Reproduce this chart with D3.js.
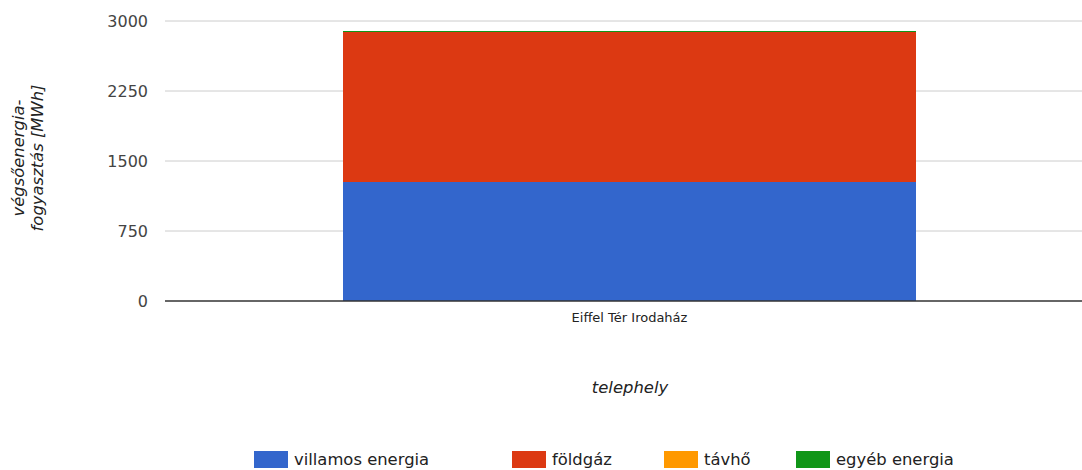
<!DOCTYPE html>
<html>
<head>
<meta charset="utf-8">
<script src="https://cdn.jsdelivr.net/npm/d3@7"></script>
<style>
  body { margin: 0; background: #fff; }
  svg text { font-family: "DejaVu Sans", sans-serif; }
</style>
</head>
<body>
<div id="chart"></div>
<script>
// data
var categories = ["Eiffel Tér Irodaház"];
var seriesNames = ["villamos energia", "földgáz", "távhő", "egyéb energia"];
var seriesColors = ["#3366cc", "#dc3912", "#ff9900", "#109618"];
var villamos = [1275];
var foldgaz = [1605];
var tavho = [0];
var egyeb = [12];
var yTicks = [0, 750, 1500, 2250, 3000];

var width = 1082, height = 470;
var plot = { left: 165, right: 1082, top: 21, bottom: 301 };

var svg = d3.select("#chart").append("svg")
    .attr("width", width)
    .attr("height", height);

var y = d3.scaleLinear().domain([0, 3000]).range([plot.bottom, plot.top]);
var x = d3.scaleBand().domain(categories).range([177, plot.right]).padding(0.2247);

// gridlines + tick labels
svg.append("g").selectAll("line").data(yTicks.filter(d => d > 0)).enter().append("line")
    .attr("x1", plot.left).attr("x2", plot.right)
    .attr("y1", d => y(d)).attr("y2", d => y(d))
    .attr("stroke", "#cccccc").attr("stroke-width", 1);

svg.append("g").selectAll("text").data(yTicks).enter().append("text")
    .attr("x", 148)
    .attr("y", d => y(d))
    .attr("dy", "0.36em")
    .attr("text-anchor", "end")
    .style("font-size", "16px")
    .style("fill", "#444")
    .text(d => d);

// stacked bars
var rows = categories.map(function(c, i) {
    return { cat: c, "villamos energia": villamos[i], "földgáz": foldgaz[i], "távhő": tavho[i], "egyéb energia": egyeb[i] };
});
var stacked = d3.stack().keys(seriesNames)(rows);

svg.append("g").selectAll("g").data(stacked).enter().append("g")
    .attr("fill", (d, i) => seriesColors[i])
    .selectAll("rect").data(d => d).enter().append("rect")
    .attr("x", d => x(d.data.cat))
    .attr("width", x.bandwidth())
    .attr("y", d => y(d[1]))
    .attr("height", d => y(d[0]) - y(d[1]))
    .attr("shape-rendering", "crispEdges");

// baseline
svg.append("line")
    .attr("x1", plot.left).attr("x2", plot.right)
    .attr("y1", y(0)).attr("y2", y(0))
    .attr("stroke", "#333").attr("stroke-width", 1.5);

// category labels
svg.append("g").selectAll("text").data(categories).enter().append("text")
    .attr("x", d => x(d) + x.bandwidth() / 2)
    .attr("y", 322)
    .attr("text-anchor", "middle")
    .style("font-size", "13px")
    .style("fill", "#222")
    .text(d => d);

// axis titles
svg.append("text")
    .attr("x", 630).attr("y", 393)
    .attr("text-anchor", "middle")
    .style("font-size", "16.4px")
    .style("font-style", "italic")
    .style("fill", "#222")
    .text("telephely");

var yTitle = svg.append("text")
    .attr("transform", "translate(24,158) rotate(-90)")
    .attr("text-anchor", "middle")
    .style("font-size", "16.4px")
    .style("font-style", "italic")
    .style("fill", "#222");
yTitle.append("tspan").attr("x", 0).attr("y", 0).text("végsőenergia-");
yTitle.append("tspan").attr("x", 0).attr("y", 19).text("fogyasztás [MWh]");

// legend
var legendX = [254, 512, 664, 796];
var legend = svg.append("g").selectAll("g").data(seriesNames).enter().append("g")
    .attr("transform", (d, i) => "translate(" + legendX[i] + ",451)");
legend.append("rect")
    .attr("width", 34).attr("height", 17)
    .attr("fill", (d, i) => seriesColors[i]);
legend.append("text")
    .attr("x", 40).attr("y", 14)
    .style("font-size", "16.4px")
    .style("fill", "#222")
    .text(d => d);
</script>
</body>
</html>
